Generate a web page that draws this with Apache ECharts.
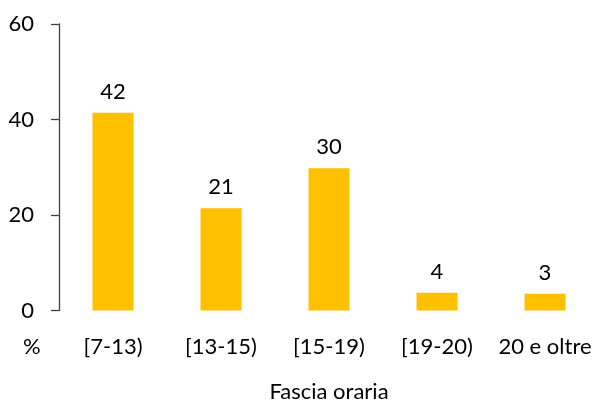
<!DOCTYPE html>
<html>
<head>
<meta charset="utf-8">
<script src="https://cdn.jsdelivr.net/npm/echarts@6/dist/echarts.min.js"></script>
<style>html,body{margin:0;padding:0;background:#fff;}#c{width:600px;height:401px;}</style>
</head>
<body>
<div id="c"></div>
<script>
var categories = ['[7-13)', '[13-15)', '[15-19)', '[19-20)', '20 e oltre'];
var values = [41.4, 21.4, 29.8, 3.7, 3.5];
var valueLabels = ['42', '21', '30', '4', '3'];
var yTicks = [0, 20, 40, 60];

var FONT = 'Lato, "Open Sans", sans-serif';
var chart = echarts.init(document.getElementById('c'));
chart.setOption({
  animation: false,
  textStyle: { fontFamily: FONT },
  grid: { left: 59, right: 1, top: 24, bottom: 90.5, containLabel: false, outerBoundsMode: 'none' },
  xAxis: {
    type: 'category',
    data: categories,
    name: 'Fascia oraria',
    nameLocation: 'middle',
    nameGap: 70,
    nameTextStyle: { fontFamily: FONT, fontSize: 22, color: '#000' },
    axisLine: { show: false },
    axisTick: { show: false },
    axisLabel: { fontFamily: FONT, fontSize: 22, color: '#000', margin: 25, interval: 0 }
  },
  yAxis: {
    type: 'value',
    min: yTicks[0],
    max: yTicks[yTicks.length - 1],
    interval: 20,
    splitLine: { show: false },
    axisLine: { show: true, lineStyle: { color: '#404040', width: 1.3 } },
    axisTick: { show: true, inside: false, length: 8, lineStyle: { color: '#404040', width: 1.3 } },
    axisLabel: { fontFamily: FONT, fontSize: 22, color: '#000', margin: 25 }
  },
  graphic: [{
    type: 'text',
    left: 23,
    top: 336,
    style: { text: '%', font: '22px ' + FONT, fill: '#000' }
  }],
  series: [{
    type: 'bar',
    data: values,
    barWidth: 41,
    itemStyle: { color: '#FFC000' },
    label: {
      show: true,
      position: 'top',
      distance: 10,
      fontFamily: FONT,
      fontSize: 22,
      color: '#000',
      formatter: function (p) { return valueLabels[p.dataIndex]; }
    }
  }]
});
</script>
</body>
</html>
